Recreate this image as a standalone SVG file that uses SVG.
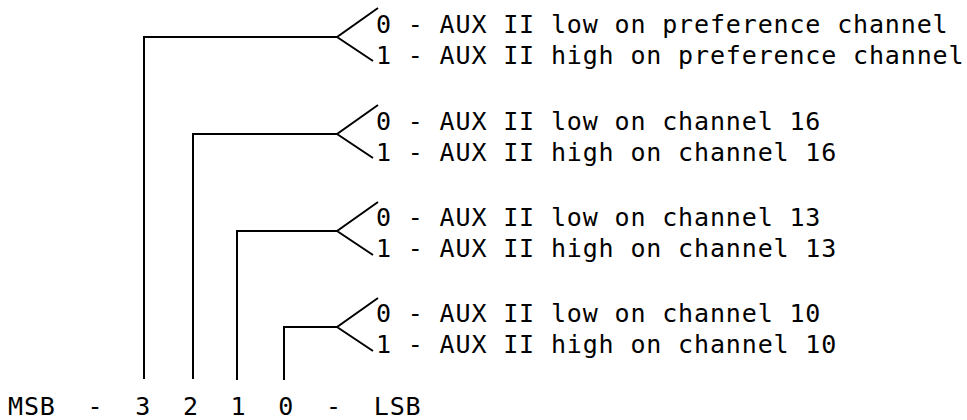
<svg xmlns="http://www.w3.org/2000/svg" width="967" height="420" viewBox="0 0 967 420">
<style>
  .t { font-family: "DejaVu Sans Mono", "Liberation Mono", monospace; font-size: 25px; letter-spacing: 0.85px; fill: #000; white-space: pre; }
  .c { fill: none; stroke: #000; stroke-width: 2; stroke-linejoin: miter; stroke-linecap: butt; }
</style>
<rect width="967" height="420" fill="#fff"/>
<g id="connectors">
  <path class="c" d="M144 379 V37 H337 L378 8 M337 37 L373 61"/>
  <path class="c" d="M193 379 V134 H337 L378 105 M337 134 L373 158"/>
  <path class="c" d="M237 380 V231 H337 L378 202 M337 231 L373 255"/>
  <path class="c" d="M284 380 V327 H337 L378 298 M337 327 L373 351"/>
</g>
<g id="bit3">
  <text class="t" x="376" y="33">0 - AUX II low on preference channel</text>
  <text class="t" x="376" y="64">1 - AUX II high on preference channel</text>
</g>
<g id="bit2">
  <text class="t" x="376" y="130">0 - AUX II low on channel 16</text>
  <text class="t" x="376" y="161">1 - AUX II high on channel 16</text>
</g>
<g id="bit1">
  <text class="t" x="376" y="226">0 - AUX II low on channel 13</text>
  <text class="t" x="376" y="257">1 - AUX II high on channel 13</text>
</g>
<g id="bit0">
  <text class="t" x="376" y="322">0 - AUX II low on channel 10</text>
  <text class="t" x="376" y="353">1 - AUX II high on channel 10</text>
</g>
<g id="bits">
  <text class="t" x="8" y="415">MSB  -  3  2  1  0  -  LSB</text>
</g>
</svg>
